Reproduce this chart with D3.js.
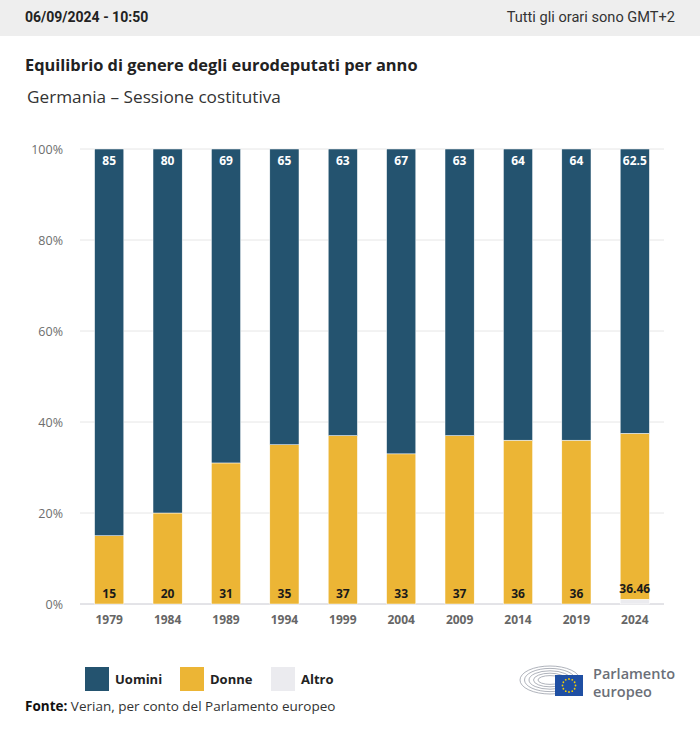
<!DOCTYPE html>
<html>
<head>
<meta charset="utf-8">
<script src="https://cdn.jsdelivr.net/npm/d3@7"></script>
<style>
  body { margin: 0; background: #fff; font-family: "Open Sans", Roboto, sans-serif; }
</style>
</head>
<body>
<div id="chart"></div>
<script>
const years = ["1979", "1984", "1989", "1994", "1999", "2004", "2009", "2014", "2019", "2024"];
const uomini = [85, 80, 69, 65, 63, 67, 63, 64, 64, 62.5];
const donne = [15, 20, 31, 35, 37, 33, 37, 36, 36, 36.46];
const altro = [0, 0, 0, 0, 0, 0, 0, 0, 0, 1.04];
const yTicks = [0, 20, 40, 60, 80, 100];

const W = 700, H = 731;
const margin = { left: 80, right: 36, top: 149, bottom: 127 };
const colors = { uomini: "#24536f", donne: "#ecb535", altro: "#ebebef" };

const svg = d3.select("#chart").append("svg").attr("width", W).attr("height", H);

// intestazione
svg.append("rect").attr("x", 0).attr("y", 0).attr("width", W).attr("height", 36).attr("fill", "#eeeeee");
svg.append("text").attr("x", 25).attr("y", 22).attr("font-size", 14).attr("font-weight", 700)
  .attr("font-family", "Roboto, sans-serif").attr("fill", "#222").text("06/09/2024 - 10:50");
svg.append("text").attr("x", 675).attr("y", 22).attr("text-anchor", "end").attr("font-size", 14.6)
  .attr("font-family", "Roboto, sans-serif").attr("fill", "#333").text("Tutti gli orari sono GMT+2");

svg.append("text").attr("x", 25).attr("y", 71).attr("font-size", 16.4).attr("font-weight", 700)
  .attr("fill", "#222").text("Equilibrio di genere degli eurodeputati per anno");
svg.append("text").attr("x", 27).attr("y", 103).attr("font-size", 17.2)
  .attr("fill", "#333").text("Germania – Sessione costitutiva");

const x = d3.scaleBand().domain(years).range([margin.left, W - margin.right]).paddingInner(0.5).paddingOuter(0.25);
const y = d3.scaleLinear().domain([0, 100]).range([H - margin.bottom, margin.top]);

// griglia
svg.append("g").selectAll("line").data(yTicks).join("line")
  .attr("x1", margin.left).attr("x2", W - margin.right)
  .attr("y1", d => y(d)).attr("y2", d => y(d))
  .attr("stroke", d => d === 0 ? "#c8c8d0" : "#e6e6e6").attr("stroke-width", 1);

const yAxis = svg.append("g").attr("transform", `translate(${margin.left - 14},0)`)
  .call(d3.axisLeft(y).tickValues(yTicks).tickFormat(d => d + "%").tickSize(0));
yAxis.select(".domain").remove();
yAxis.selectAll("text").attr("font-size", 12.5).attr("fill", "#6e6e6e").attr("font-weight", 400)
  .attr("font-family", "'Open Sans', sans-serif");

const xAxis = svg.append("g").attr("transform", `translate(0,${y(0) + 8})`)
  .call(d3.axisBottom(x).tickSize(0));
xAxis.select(".domain").remove();
xAxis.selectAll("text").attr("font-size", 12).attr("font-weight", 700).attr("fill", "#666")
  .attr("font-family", "'Open Sans', sans-serif");

// barre impilate: Altro in basso, poi Donne, poi Uomini
const rows = years.map((yr, i) => ({ year: yr, altro: altro[i], donne: donne[i], uomini: uomini[i] }));
const stack = d3.stack().keys(["altro", "donne", "uomini"])(rows);

svg.append("g").selectAll("g").data(stack).join("g")
  .attr("fill", s => colors[s.key])
  .selectAll("rect").data(s => s).join("rect")
  .attr("x", d => x(d.data.year))
  .attr("width", x.bandwidth())
  .attr("y", d => y(d[1]))
  .attr("height", d => Math.max(0, y(d[0]) - y(d[1])))
  .attr("stroke", "#fff").attr("stroke-width", 0.5);

// etichette
svg.append("g").selectAll("text").data(rows).join("text")
  .attr("x", d => x(d.year) + x.bandwidth() / 2)
  .attr("y", y(100) + 16)
  .attr("text-anchor", "middle").attr("font-size", 12).attr("font-weight", 700).attr("fill", "#fff")
  .text(d => d.uomini);

svg.append("g").selectAll("text").data(rows).join("text")
  .attr("x", d => x(d.year) + x.bandwidth() / 2)
  .attr("y", d => y(d.altro) - 6)
  .attr("text-anchor", "middle").attr("font-size", 12).attr("font-weight", 700).attr("fill", "#1a1a1a")
  .text(d => d.donne);

// legenda
const legend = [
  { label: "Uomini", color: colors.uomini, x: 85 },
  { label: "Donne", color: colors.donne, x: 180 },
  { label: "Altro", color: colors.altro, x: 271 }
];
const lg = svg.append("g").selectAll("g").data(legend).join("g")
  .attr("transform", d => `translate(${d.x},667)`);
lg.append("rect").attr("width", 24).attr("height", 24).attr("fill", d => d.color);
lg.append("text").attr("x", 30).attr("y", 17).attr("font-size", 13).attr("font-weight", 700)
  .attr("fill", "#222").text(d => d.label);

// fonte
const fonte = svg.append("text").attr("x", 25).attr("y", 711).attr("font-size", 13.5).attr("fill", "#333");
fonte.append("tspan").attr("font-weight", 700).attr("fill", "#111").text("Fonte:");
fonte.append("tspan").text(" Verian, per conto del Parlamento europeo");

// logo
const logo = svg.append("g").attr("transform", "translate(520,662)");
[0, 1, 2, 3, 4].forEach(k => {
  logo.append("ellipse").attr("cx", 30).attr("cy", 18).attr("rx", 30 - k * 4.5).attr("ry", 14 - k * 2.4)
    .attr("fill", "none").attr("stroke", "#9aa0aa").attr("stroke-width", 0.8);
});
logo.append("rect").attr("x", 35).attr("y", 13).attr("width", 28).attr("height", 21).attr("fill", "#1f4fa3");
d3.range(12).forEach(k => {
  const a = k / 12 * 2 * Math.PI;
  logo.append("circle").attr("cx", 49 + 6.5 * Math.cos(a)).attr("cy", 23.5 + 6.5 * Math.sin(a))
    .attr("r", 0.9).attr("fill", "#f5d000");
});
logo.append("text").attr("x", 73).attr("y", 17).attr("font-size", 14.5).attr("font-weight", 600)
  .attr("fill", "#6b6f78").text("Parlamento");
logo.append("text").attr("x", 73).attr("y", 35).attr("font-size", 14.5).attr("font-weight", 600)
  .attr("fill", "#6b6f78").text("europeo");
</script>
</body>
</html>
